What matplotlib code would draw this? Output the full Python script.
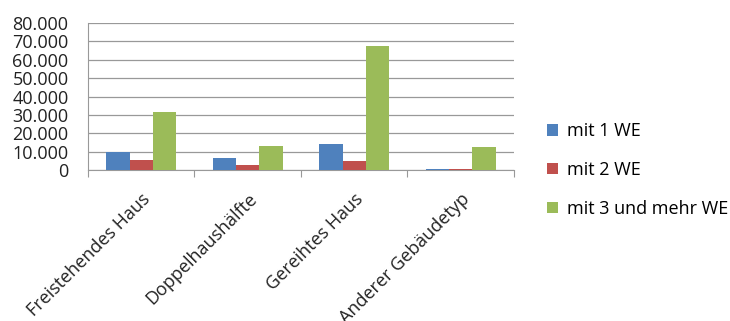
import numpy as np
import matplotlib.pyplot as plt

categories = ['Freistehendes Haus', 'Doppelhaushälfte', 'Gereihtes Haus', 'Anderer Gebäudetyp']
series = ['mit 1 WE', 'mit 2 WE', 'mit 3 und mehr WE']
mit1 = [10000, 6300, 14000, 700]
mit2 = [5200, 2500, 4700, 700]
mit3 = [31500, 13000, 67500, 12500]
colors = ['#4f81bd', '#c0504d', '#9bbb59']
yticks = [0, 10000, 20000, 30000, 40000, 50000, 60000, 70000, 80000]
ytick_labels = ['0', '10.000', '20.000', '30.000', '40.000', '50.000', '60.000', '70.000', '80.000']

plt.rcParams['font.family'] = ['Open Sans', 'DejaVu Sans']

fig = plt.figure(figsize=(7.3, 3.21), dpi=100)
ax = fig.add_axes([0.1205, 0.4704, 0.5836, 0.4576])

x = np.arange(len(categories))
w = 0.22
for i, (vals, name) in enumerate(zip([mit1, mit2, mit3], series)):
    ax.bar(x + (i - 1) * w, vals, w, color=colors[i], label=name, zorder=3)

ax.set_xlim(-0.5, len(categories) - 0.5)
ax.set_ylim(0, 80000)
ax.set_yticks(yticks)
ax.set_yticklabels(ytick_labels, fontsize=13, color='#222222')
ax.tick_params(axis='y', length=0, pad=14)
ax.set_xticks(np.arange(len(categories) + 1) - 0.5, minor=False)
ax.set_xticklabels([''] * (len(categories) + 1))
ax.tick_params(axis='x', length=5, color='#999999')
for xi, cat in zip(x, categories):
    ax.text(xi + 0.0, -11000, cat, rotation=45, ha='right', va='top',
            rotation_mode='anchor', fontsize=13, color='#222222')

ax.grid(axis='y', color='#999999', linewidth=0.9, zorder=0)
for s in ['top', 'right']:
    ax.spines[s].set_visible(False)
ax.spines['left'].set_color('#999999')
ax.spines['bottom'].set_color('#999999')

ax.legend(loc='center left', bbox_to_anchor=(1.04, 0.0), frameon=False,
          fontsize=13, handlelength=0.6, handleheight=0.6, handletextpad=0.5,
          labelspacing=1.15)

fig.savefig('out.png', dpi=100)
